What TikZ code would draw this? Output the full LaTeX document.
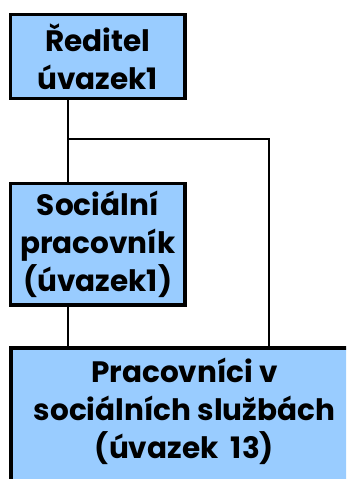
\documentclass[tikz,border=0pt]{standalone}
\usepackage{fontspec}
\setmainfont{Poppins}
\definecolor{boxblue}{RGB}{153,204,255}
\begin{document}
\begin{tikzpicture}[x=1pt,y=1pt,
  orgfont/.style={font=\bfseries\fontsize{29.5}{38}\selectfont},
  orgbox/.style={draw=black, line width=3.2pt, fill=boxblue, inner sep=0pt, align=center, orgfont},
  orgtext/.style={inner sep=0pt, align=center, orgfont},
  conn/.style={draw=black, line width=2.2pt}]
\useasboundingbox (0,0) rectangle (346,479);
\fill[white] (0,0) rectangle (346,479);
\begin{scope}
\clip (0,0) rectangle (346,479);
\node[orgbox, minimum width=174.5pt, minimum height=84pt] (dir) at (97.75,422.5) {Ředitel\\úvazek1};
\node[orgbox, minimum width=174.5pt, minimum height=121.5pt] (soc) at (97.75,234.75) {Sociální\\pracovník\\(úvazek1)};
\node[orgbox, minimum width=347pt, minimum height=170pt, anchor=north] (prac) at (184.5,132.5) {};
\node[orgtext, anchor=north] (pracT) at ([yshift=-11pt]prac.north) {Pracovníci v\\sociálních službách\\(úvazek~ 13)};
\coordinate (j1) at (68,340);
\coordinate (j2) at (269,340);
\draw[conn] (68,0 |- dir.south) -- (68,0 |- soc.north);
\draw[conn] (j1) -- (j2) -- (269,0 |- prac.north);
\draw[conn] (68,0 |- soc.south) -- (68,0 |- prac.north);
\end{scope}
\end{tikzpicture}
\end{document}
